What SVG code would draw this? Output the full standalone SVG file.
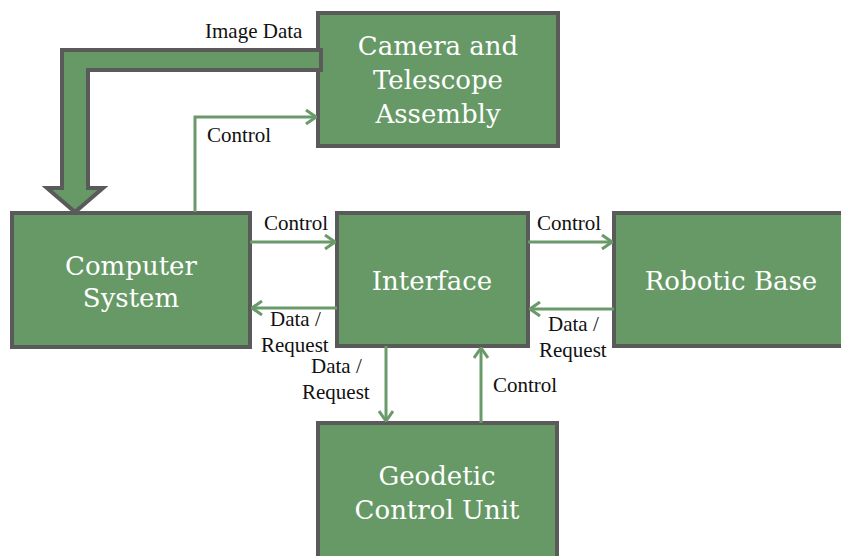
<svg xmlns="http://www.w3.org/2000/svg" width="841" height="556" viewBox="0 0 841 556">
  <style>
    .box { fill: #669966; stroke: #5a5a5a; stroke-width: 4; }
    .ntext { fill: #ffffff; font-family: "DejaVu Serif", "Liberation Serif", serif; font-size: 26px; text-anchor: middle; }
    .lbl { fill: #111111; font-family: "Liberation Serif", serif; font-size: 21px; }
    .wire { fill: none; stroke: #6a9a6a; stroke-width: 3; marker-end: url(#chev); }
  </style>
  <defs>
    <marker id="chev" viewBox="0 0 12 16" refX="11" refY="8" markerWidth="12" markerHeight="16" markerUnits="userSpaceOnUse" orient="auto">
      <path d="M1,1 L11,8 L1,15" fill="none" stroke="#6a9a6a" stroke-width="3"/>
    </marker>
  </defs>

  <g id="camera">
    <rect class="box" x="318" y="13" width="240" height="133"/>
    <text class="ntext" x="438" y="55">Camera and</text>
    <text class="ntext" x="438" y="89">Telescope</text>
    <text class="ntext" x="438" y="123">Assembly</text>
  </g>

  <!-- wide data path from the camera down to the computer -->
  <g id="image-data-path">
    <polygon points="62,50 321,50 321,70 88,70 88,188 103,188 75,212 47,188 62,188" fill="#669966" stroke="#5a5a5a" stroke-width="4" stroke-linejoin="miter"/>
  </g>

  <g id="computer">
    <rect class="box" x="12" y="213" width="238" height="134"/>
    <text class="ntext" x="131" y="275">Computer</text>
    <text class="ntext" x="131" y="307">System</text>
  </g>

  <g id="interface">
    <rect class="box" x="337" y="213" width="191" height="133"/>
    <text class="ntext" x="432" y="290">Interface</text>
  </g>

  <g id="robotic-base">
    <rect class="box" x="614" y="213" width="240" height="133"/>
    <text class="ntext" x="731" y="290">Robotic Base</text>
  </g>

  <g id="geodetic">
    <rect class="box" x="318" y="423" width="239" height="150"/>
    <text class="ntext" x="437" y="485">Geodetic</text>
    <text class="ntext" x="437" y="519">Control Unit</text>
  </g>

  <g id="connectors">
    <path class="wire" d="M195,212 V117 H316"/>
    <path class="wire" d="M250,242 H335"/>
    <path class="wire" d="M337,308 H252"/>
    <path class="wire" d="M528,242 H612"/>
    <path class="wire" d="M614,309 H530"/>
    <path class="wire" d="M386,346 V421"/>
    <path class="wire" d="M481,423 V348"/>
  </g>

  <g id="labels">
    <text class="lbl" x="205" y="38">Image Data</text>
    <text class="lbl" x="207" y="142">Control</text>
    <text class="lbl" x="264" y="230">Control</text>
    <text class="lbl" x="537" y="230">Control</text>
    <text class="lbl" x="270" y="326">Data /</text>
    <text class="lbl" x="261" y="352">Request</text>
    <text class="lbl" x="548" y="331">Data /</text>
    <text class="lbl" x="539" y="357">Request</text>
    <text class="lbl" x="311" y="373">Data /</text>
    <text class="lbl" x="302" y="399">Request</text>
    <text class="lbl" x="493" y="392">Control</text>
  </g>
</svg>
